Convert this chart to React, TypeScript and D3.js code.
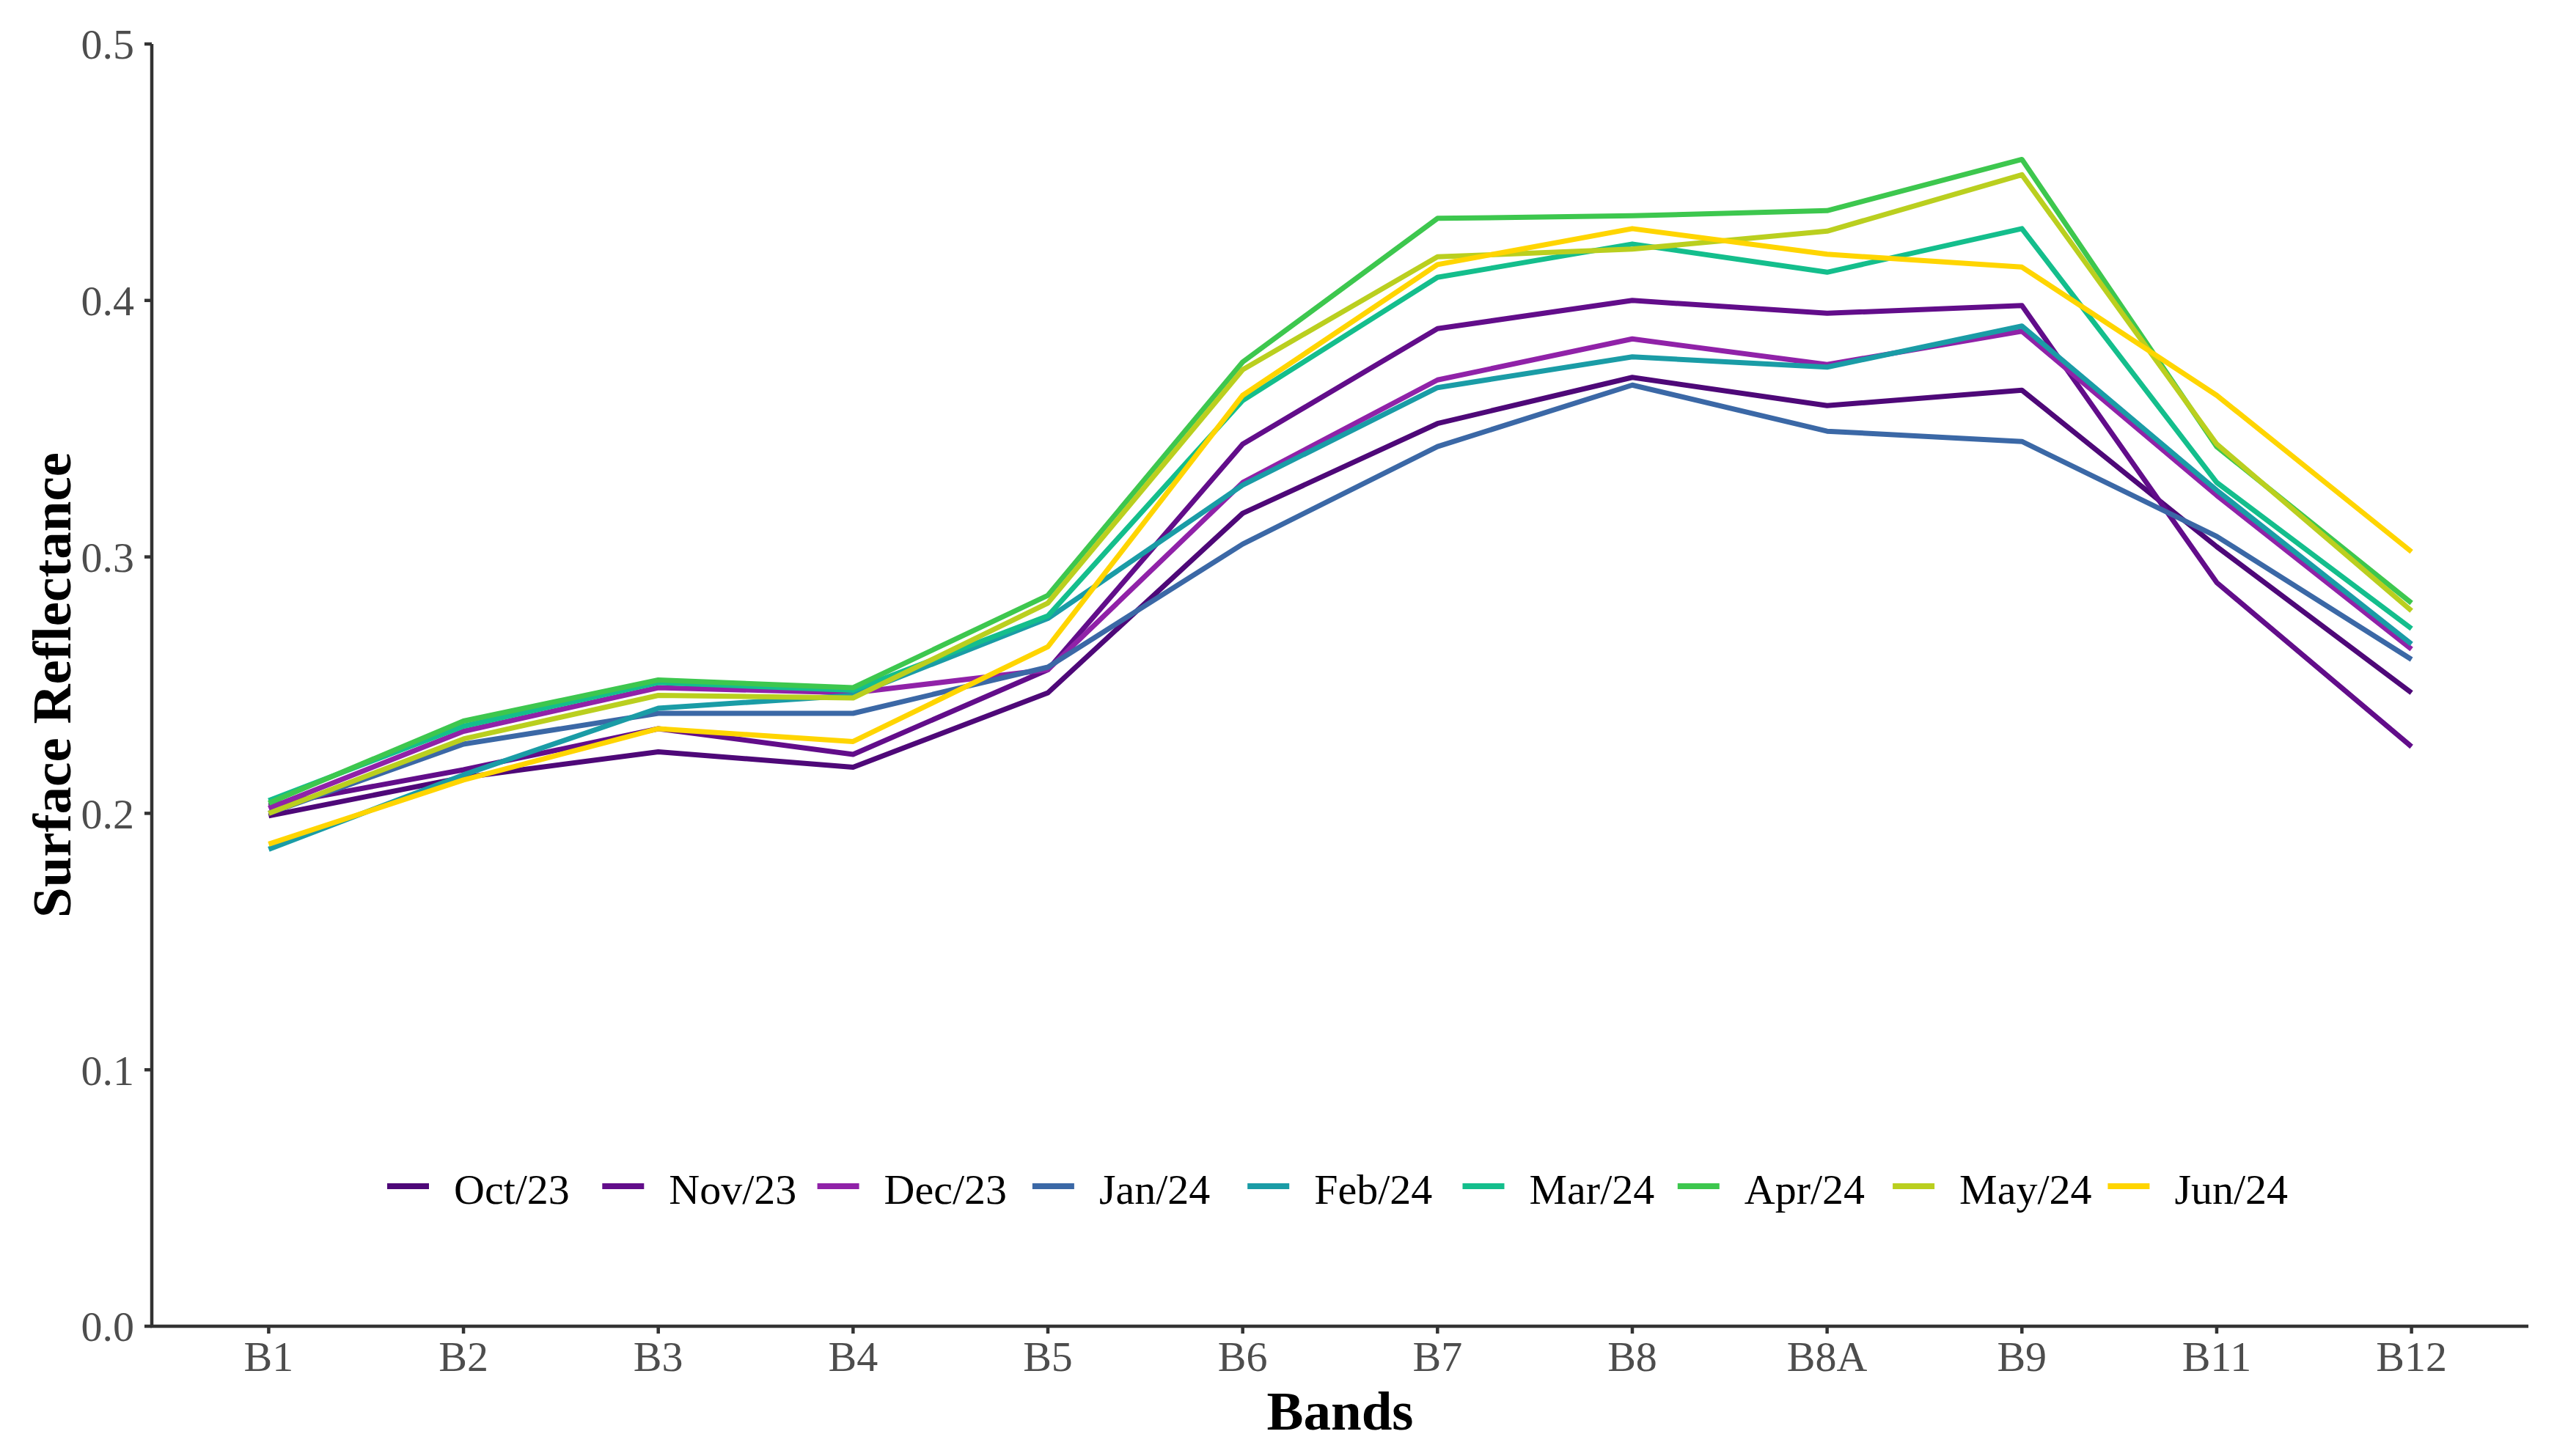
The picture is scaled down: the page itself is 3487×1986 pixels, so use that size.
import React, { useEffect } from "react";
import * as d3 from "d3";

const bands = ["B1", "B2", "B3", "B4", "B5", "B6", "B7", "B8", "B8A", "B9", "B11", "B12"];
const seriesNames = ["Oct/23", "Nov/23", "Dec/23", "Jan/24", "Feb/24", "Mar/24", "Apr/24", "May/24", "Jun/24"];
const seriesColors = ["#4E0878", "#620D8A", "#9022A8", "#3B68A6", "#1A9CA6", "#14BE8C", "#3DC74E", "#BACF1F", "#FFD500"];

const oct23 = [0.199, 0.214, 0.224, 0.218, 0.247, 0.317, 0.352, 0.370, 0.359, 0.365, 0.304, 0.247];
const nov23 = [0.203, 0.217, 0.233, 0.223, 0.256, 0.344, 0.389, 0.400, 0.395, 0.398, 0.290, 0.226];
const dec23 = [0.202, 0.232, 0.249, 0.247, 0.256, 0.329, 0.369, 0.385, 0.375, 0.388, 0.324, 0.264];
const jan24 = [0.200, 0.227, 0.239, 0.239, 0.257, 0.305, 0.343, 0.367, 0.349, 0.345, 0.308, 0.260];
const feb24 = [0.186, 0.215, 0.241, 0.246, 0.276, 0.328, 0.366, 0.378, 0.374, 0.390, 0.326, 0.266];
const mar24 = [0.205, 0.234, 0.251, 0.248, 0.277, 0.361, 0.409, 0.422, 0.411, 0.428, 0.329, 0.272];
const apr24 = [0.204, 0.236, 0.252, 0.249, 0.285, 0.376, 0.432, 0.433, 0.435, 0.455, 0.343, 0.282];
const may24 = [0.200, 0.229, 0.246, 0.245, 0.282, 0.373, 0.417, 0.420, 0.427, 0.449, 0.344, 0.279];
const jun24 = [0.188, 0.213, 0.233, 0.228, 0.265, 0.363, 0.414, 0.428, 0.418, 0.413, 0.363, 0.302];

const seriesValues = [oct23, nov23, dec23, jan24, feb24, mar24, apr24, may24, jun24];
const yTicks = [0, 0.1, 0.2, 0.3, 0.4, 0.5];

const W = 3487;
const H = 1986;
const left = 207;
const right = 3448;
const top = 60;
const bottom = 1809;

const FONT = "'Liberation Serif', 'Times New Roman', serif";

export default function App() {
  useEffect(() => {
    document.body.style.margin = "0";
  }, []);

  const x = d3.scalePoint<string>().domain(bands).range([left, right]).padding(0.6);
  const y = d3.scaleLinear().domain([0, 0.5]).range([bottom, top]);
  const line = d3
    .line<number>()
    .x((_, i) => x(bands[i]) as number)
    .y((d) => y(d));

  const legendStart = 528;
  const legendStep = 293.3;
  const legendY = 1618;

  return (
    <svg width={W} height={H} style={{ display: "block", background: "#fff" }}>
      <g>
        {seriesValues.map((vals, i) => (
          <path
            key={seriesNames[i]}
            d={line(vals) || ""}
            fill="none"
            stroke={seriesColors[i]}
            strokeWidth={7}
            strokeLinejoin="round"
          />
        ))}
      </g>

      <line x1={left} x2={left} y1={y(0.5)} y2={bottom + 2} stroke="#333" strokeWidth={4.5} />
      {yTicks.map((t) => (
        <g key={t}>
          <line x1={left - 10} x2={left} y1={y(t)} y2={y(t)} stroke="#333" strokeWidth={4.5} />
          <text
            x={left - 24}
            y={y(t)}
            dy="0.35em"
            textAnchor="end"
            fontFamily={FONT}
            fontSize={58}
            fill="#4D4D4D"
          >
            {t.toFixed(1)}
          </text>
        </g>
      ))}

      <line x1={left - 2} x2={right} y1={bottom} y2={bottom} stroke="#333" strokeWidth={4.5} />
      {bands.map((b) => (
        <g key={b}>
          <line x1={x(b)} x2={x(b)} y1={bottom} y2={bottom + 10} stroke="#333" strokeWidth={4.5} />
          <text
            x={x(b)}
            y={1870}
            textAnchor="middle"
            fontFamily={FONT}
            fontSize={58}
            fill="#4D4D4D"
          >
            {b}
          </text>
        </g>
      ))}

      <text
        x={(left + right) / 2}
        y={1950}
        textAnchor="middle"
        fontFamily={FONT}
        fontWeight="bold"
        fontSize={75}
        fill="#000"
      >
        Bands
      </text>
      <text
        transform={`translate(96, ${(top + bottom) / 2}) rotate(-90)`}
        textAnchor="middle"
        fontFamily={FONT}
        fontWeight="bold"
        fontSize={75}
        fill="#000"
      >
        Surface Reflectance
      </text>

      {seriesNames.map((name, i) => {
        const lx = legendStart + i * legendStep;
        return (
          <g key={name}>
            <line
              x1={lx}
              x2={lx + 57}
              y1={legendY}
              y2={legendY}
              stroke={seriesColors[i]}
              strokeWidth={8}
            />
            <text x={lx + 91} y={1642} fontFamily={FONT} fontSize={58} fill="#000">
              {name}
            </text>
          </g>
        );
      })}
    </svg>
  );
}
